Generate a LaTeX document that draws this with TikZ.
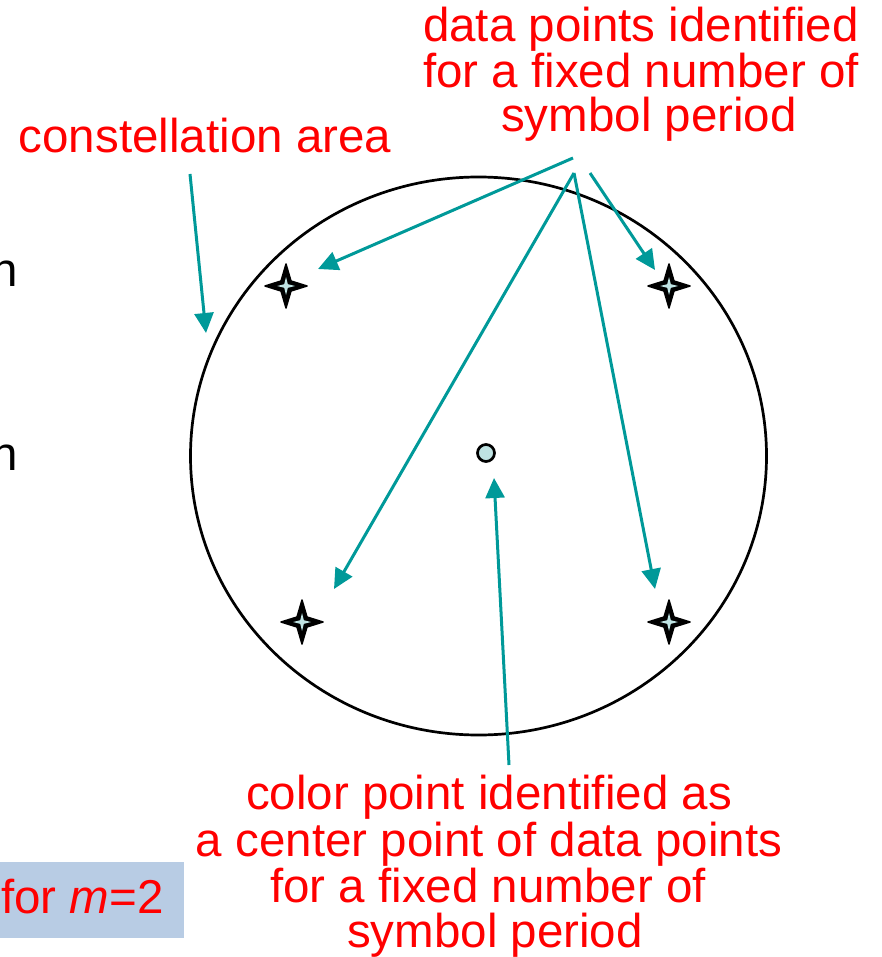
\documentclass[tikz,border=0pt]{standalone}
\usepackage{fontspec}
\setmainfont{Liberation Sans}
\usetikzlibrary{arrows.meta}
\definecolor{tealc}{HTML}{009999}
\definecolor{ptfill}{HTML}{BFE3E3}
\definecolor{boxblue}{HTML}{B8CCE4}
\begin{document}
\begin{tikzpicture}[x=1pt,y=-1pt,
  lbl/.style={text=red,font=\fontsize{47.5}{45}\selectfont,inner sep=0pt,anchor=base},
  cut/.style={text=black,font=\fontsize{47.5}{45}\selectfont,inner sep=0pt,anchor=base east},
  conn/.style={draw=tealc,line width=3pt,-{Triangle[length=20pt,width=19pt]}},
  starpt/.pic={\filldraw[fill=black,draw=black,line width=1.5pt,line join=round]
     (21,0) -- (5,5) -- (0,22) -- (-5,5) -- (-21,0) -- (-5,-5) -- (0,-22) -- (5,-5) -- cycle;
     \fill[ptfill] (9,0) -- (1.8,1.8) -- (0,9) -- (-1.8,1.8) -- (-9,0) -- (-1.8,-1.8) -- (0,-9) -- (1.8,-1.8) -- cycle;}]
\useasboundingbox (0,0) rectangle (881,957);
\clip (0,0) rectangle (881,957);

% blue box with label
\fill[boxblue] (0,862) rectangle (184,938);
\node[lbl,anchor=base west] (form) at (1,913) {for \textit{m}=2};

% clipped black letters at the left edge
\node[cut] (cuta) at (18,287) {n};
\node[cut] (cutb) at (18,470) {n};

% labels
\node[lbl] (ca) at (205,153) {constellation area};
\node[lbl] (d1) at (641,42) {data points identified};
\node[lbl] (d2) at (641,88) {for a fixed number of};
\node[lbl] (d3) at (649,132) {symbol period};
\node[lbl] (c1) at (489,809) {color point identified as};
\node[lbl] (c2) at (489,856) {a center point of data points};
\node[lbl] (c3) at (488,902) {for a fixed number of};
\node[lbl] (c4) at (495,947) {symbol period};

% constellation area
\draw[line width=2.7pt] (478.5,456) ellipse [x radius=288, y radius=279];

% data points
\coordinate (s1) at (286,286);
\coordinate (s2) at (669,286);
\coordinate (s3) at (302,622);
\coordinate (s4) at (669,622);
\pic at (s1) {starpt};
\pic at (s2) {starpt};
\pic at (s3) {starpt};
\pic at (s4) {starpt};

% center point
\node[circle,draw=black,fill=ptfill,line width=2.7pt,minimum size=17pt,inner sep=0pt] (cp) at (486,453) {};

% arrow ends
\coordinate (caT) at (190,174);
\coordinate (caH) at (206,333);
\coordinate (dA) at (573,158);
\coordinate (dB) at (574,173);
\coordinate (dC) at (590,173);
\coordinate (h1) at (318,269);
\coordinate (h2) at (655,270);
\coordinate (h3) at (334,589);
\coordinate (h4) at (655,589);
\coordinate (cT) at (509,765);
\coordinate (cH) at (494,478);

\draw[conn] (caT) -- (caH);
\draw[conn] (dA) -- (h1);
\draw[conn] (dB) -- (h3);
\draw[conn] (dB) -- (h4);
\draw[conn] (dC) -- (h2);
\draw[conn] (cT) -- (cH);
\end{tikzpicture}
\end{document}
